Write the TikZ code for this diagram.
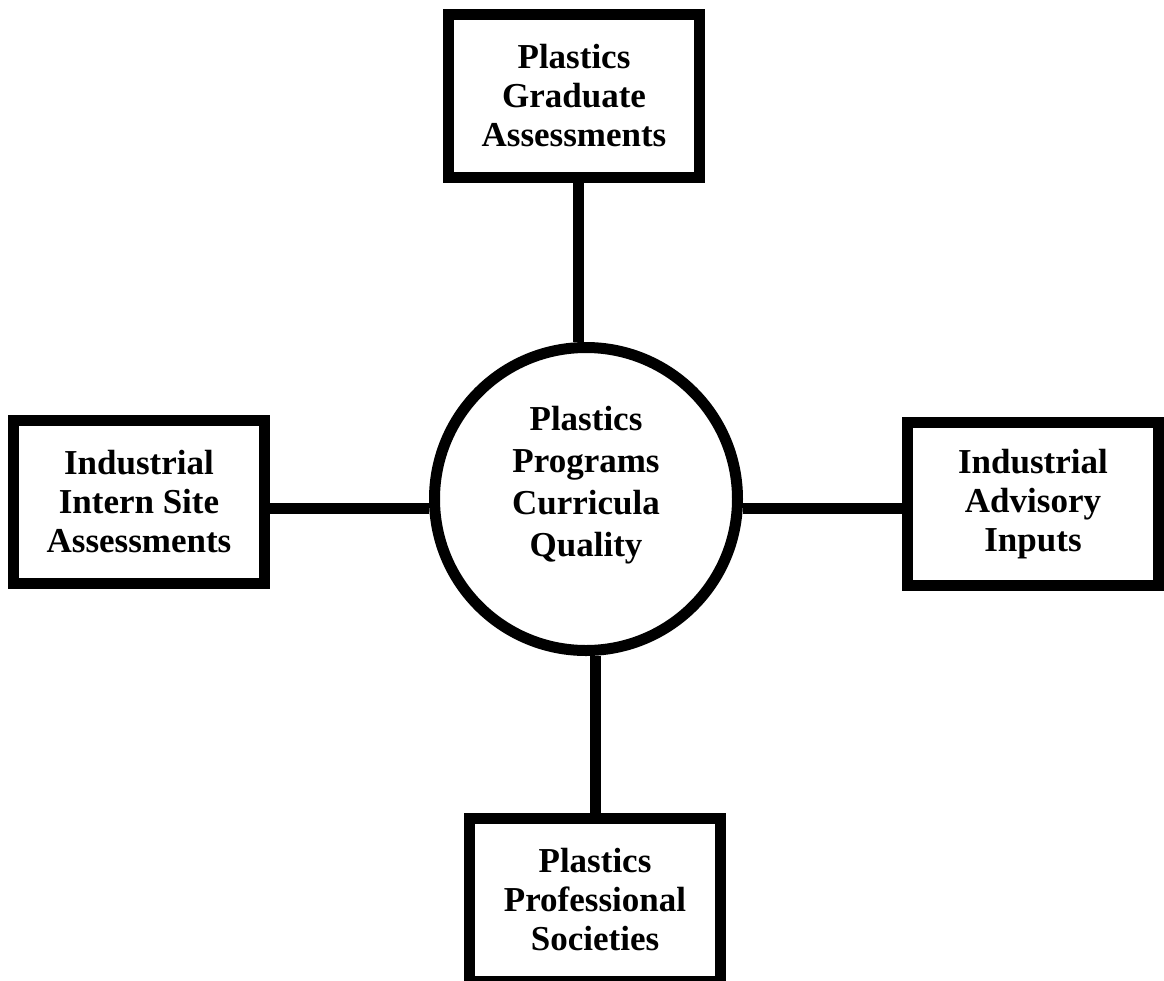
\documentclass[tikz,border=0pt]{standalone}
\usepackage{fontspec}
\setmainfont{Liberation Serif}
\begin{document}
\begin{tikzpicture}[x=0.5pt, y=-0.5pt, line width=5.5pt, rect/.style={rectangle, draw=black, line width=5.5pt, fill=white, minimum width=125.5pt, minimum height=81.5pt, inner sep=0pt, node font=\bfseries\fontsize{17.5}{19.5}\selectfont, align=center}, hub/.style={circle, draw=black, line width=5.5pt, fill=white, minimum size=151.5pt, inner sep=0pt}, hubtext/.style={align=center, yshift=7pt, font=\bfseries\fontsize{17.5}{21}\selectfont}]

\useasboundingbox (0,0) rectangle (1164,981);

\node [rect] (PGA) at (574,96){Plastics\\Graduate\\Assessments};
\node [rect] (IIS) at (139,502){Industrial\\Intern Site\\Assessments};
\node [rect] (IAI) at (1033,504){Industrial\\Advisory\\Inputs};
\node [rect] (PPS) at (595,900){Plastics\\Professional\\Societies};
\node [hub, label={[hubtext]center:{Plastics\\Programs\\Curricula\\Quality}}] (CQ) at (586,499){};

\draw ([xshift=2pt]PGA.south) -- ([xshift=2pt]PGA.south |- CQ.north);
\draw (PPS.north) -- (PPS.north |- CQ.south);
\draw ([yshift=-3pt]IIS.east) -- ([yshift=-3pt]IIS.east -| CQ.west);
\draw ([yshift=-2pt]IAI.west) -- ([yshift=-2pt]IAI.west -| CQ.east);

\end{tikzpicture}
\end{document}
